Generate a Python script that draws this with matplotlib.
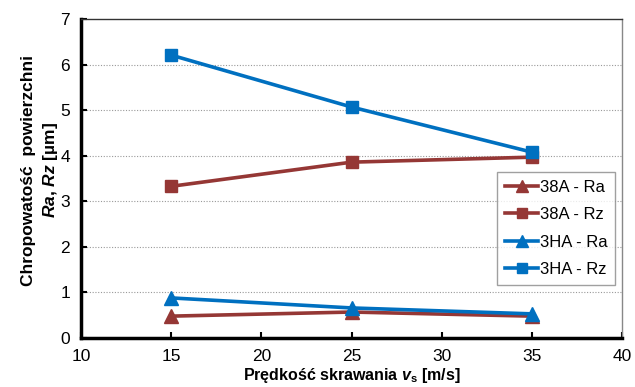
import matplotlib
matplotlib.use("Agg")
import matplotlib.pyplot as plt

plt.rcParams['font.family'] = ['Liberation Sans', 'DejaVu Sans']
plt.rcParams['mathtext.fontset'] = 'custom'
plt.rcParams['mathtext.rm'] = 'Liberation Sans:bold'
plt.rcParams['mathtext.it'] = 'Liberation Sans:bold:italic'
plt.rcParams['mathtext.bf'] = 'Liberation Sans:bold'

# data
speeds = [15, 25, 35]
ra_38a = [0.48, 0.57, 0.48]
rz_38a = [3.33, 3.86, 3.97]
ra_3ha = [0.88, 0.66, 0.53]
rz_3ha = [6.21, 5.07, 4.08]
x_ticks = [10, 15, 20, 25, 30, 35, 40]
y_ticks = [0, 1, 2, 3, 4, 5, 6, 7]

red = "#953735"
blue = "#0070C0"

fig = plt.figure(figsize=(6.35, 3.87), dpi=100)
ax = fig.add_axes([0.1276, 0.1266, 0.852, 0.824])

ax.plot(speeds, ra_38a, color=red, lw=2.6, marker="^", ms=10, label="38A - Ra")
ax.plot(speeds, rz_38a, color=red, lw=2.6, marker="s", ms=9, label="38A - Rz")
ax.plot(speeds, ra_3ha, color=blue, lw=2.6, marker="^", ms=10, label="3HA - Ra")
ax.plot(speeds, rz_3ha, color=blue, lw=2.6, marker="s", ms=9, label="3HA - Rz")

ax.set_xlim(10, 40)
ax.set_ylim(0, 7)
ax.set_xticks(x_ticks)
ax.set_yticks(y_ticks)
ax.tick_params(direction="in", length=4, width=1.5, labelsize=12.5, pad=8)
for y in y_ticks[1:-1]:
    ax.axhline(y, color="#999999", lw=0.8, ls=(0, (1, 1.5)), zorder=0)

ax.spines["left"].set_linewidth(2.5)
ax.spines["bottom"].set_linewidth(2.5)
ax.spines["top"].set_linewidth(1.0)
ax.spines["top"].set_color("#333333")
ax.spines["right"].set_linewidth(1.0)
ax.spines["right"].set_color("#888888")

ax.set_xlabel(r"Prędkość skrawania $v_{\mathrm{s}}$ [m/s]", fontsize=11.5,
              fontweight="bold", labelpad=1)
fig.text(0.045, 0.56, "Chropowatość  powierzchni", rotation=90, fontsize=12.5,
         fontweight="bold", ha="center", va="center")
fig.text(0.08, 0.56, r"$Ra$, $Rz$ [µm]", rotation=90, fontsize=12.5,
         fontweight="bold", ha="center", va="center")

leg = ax.legend(loc="upper right", bbox_to_anchor=(0.987, 0.52), fontsize=12,
                fancybox=False, edgecolor="#888888", handlelength=2.0,
                handletextpad=0.1, borderpad=0.45, labelspacing=0.75,
                borderaxespad=0, markerscale=0.85)
leg.get_frame().set_linewidth(1.0)

plt.savefig("out.png", dpi=100)
